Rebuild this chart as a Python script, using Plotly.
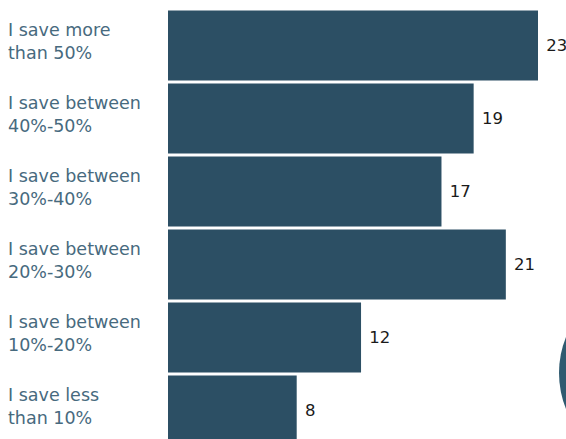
import plotly.graph_objects as go

categories = ["I save more<br>than 50%", "I save between<br>40%-50%", "I save between<br>30%-40%",
              "I save between<br>20%-30%", "I save between<br>10%-20%", "I save less<br>than 10%"]
values = [23, 19, 17, 21, 12, 8]

W, H = 566, 439
L, R, T, B = 168, 0, 9, 0
pw, ph = W - L - R, H - T - B
px_per_unit = 370 / 23
band = 73

ypos = list(range(len(values)))

fig = go.Figure(go.Bar(
    x=values, y=ypos, orientation="h",
    marker=dict(color="#2c4f64", line=dict(width=0)),
    text=[str(v) for v in values], texttemplate=" %{text}",
    textposition="outside", constraintext="none",
    textfont=dict(family="DejaVu Sans, sans-serif", size=16.5, color="#1a1a1a"),
    cliponaxis=False,
))

for i, c in enumerate(categories):
    fig.add_annotation(x=-162 / pw, xref="paper", y=i, yref="y", text=c,
                       showarrow=False, xanchor="left", align="left", yshift=4,
                       font=dict(family="DejaVu Sans, sans-serif", size=17.5, color="#476a7e"))

# decorative circle at right edge
cx, cy, r = 655, 373, 96
fig.add_shape(type="circle", xref="paper", yref="paper",
              x0=(cx - r - L) / pw, x1=(cx + r - L) / pw,
              y0=(H - (cy + r) - B) / ph, y1=(H - (cy - r) - B) / ph,
              fillcolor="#2f5a70", line=dict(width=0), layer="above")

fig.update_layout(
    width=W, height=H, margin=dict(l=L, r=R, t=T, b=B, pad=0, autoexpand=False),
    paper_bgcolor="white", plot_bgcolor="white", showlegend=False,
    bargap=3 / band,
    xaxis=dict(range=[0, pw / px_per_unit], visible=False, fixedrange=True),
    yaxis=dict(range=[-0.5 + ph / band, -0.5], visible=False, fixedrange=True),
)

fig.write_html("out.html", config={"displayModeBar": False},
               post_script="document.body.style.margin='0';document.body.style.overflow='hidden';")
